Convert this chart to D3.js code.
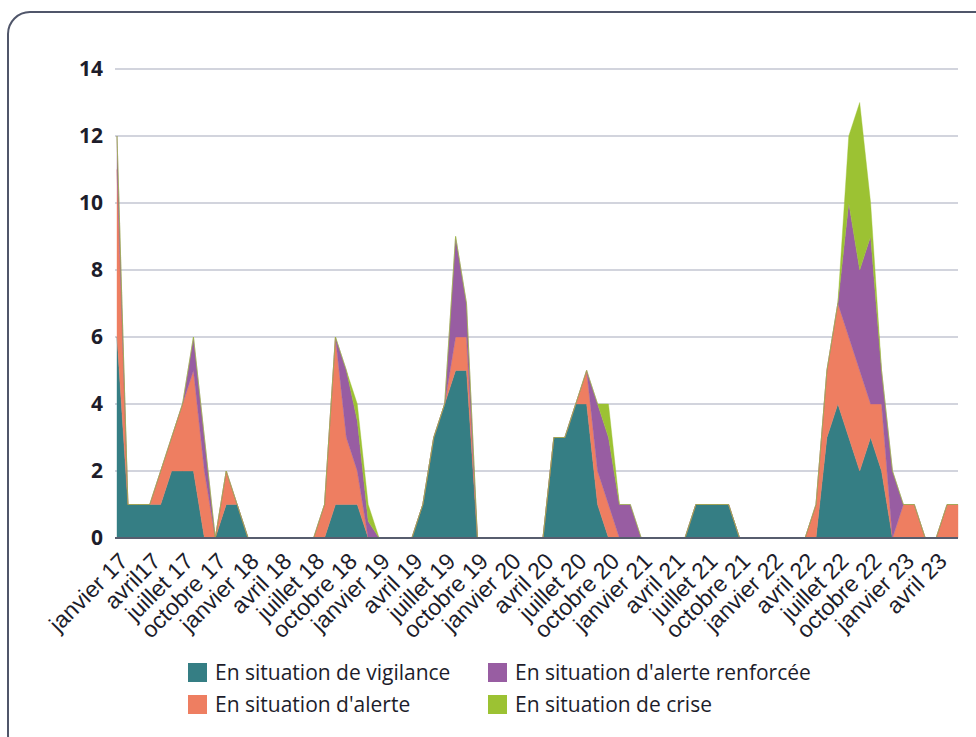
<!DOCTYPE html>
<html>
<head>
  <meta charset="UTF-8">
  <style>
    body { margin: 0; background: white; }
    svg { display: block; font-family: "Open Sans", "Noto Sans", sans-serif; }
    .ylab { font-size: 21px; font-weight: bold; fill: #1d1d2b; }
    .xlab { font-size: 23px; fill: #1d1d2b; }
    .legend { font-size: 21px; fill: #1d1d2b; }
  </style>
</head>
<body>

<svg></svg>
<script src="https://d3js.org/d3.v7.min.js"></script>

<script>

let width = 976, height = 737;

// monthly values, janvier 17 -> juin 23 (78 months)
let vigilance = [6,1,1,1,1,2,2,2,0,0,1,1,0,0,0,0,0,0,0,0,1,1,1,0,0,0,0,0,1,3,4,5,5,0,0,0,0,0,0,0,
                 3,3,4,4,1,0,0,0,0,0,0,0,0,1,1,1,1,0,0,0,0,0,0,0,0,3,4,3,2,3,2,0,0,0,0,0,0,0];
let alerte    = [5,0,0,0,1,1,2,3,2,0,1,0,0,0,0,0,0,0,0,1,5,2,1,0,0,0,0,0,0,0,0,1,1,0,0,0,0,0,0,0,
                 0,0,0,1,1,1,0,0,0,0,0,0,0,0,0,0,0,0,0,0,0,0,0,0,1,2,3,3,3,1,2,0,1,1,0,0,1,1];
let renforcee = [1,0,0,0,0,0,0,1,1,0,0,0,0,0,0,0,0,0,0,0,0,2,1.5,0.5,0,0,0,0,0,0,0,3,1,0,0,0,0,0,0,0,
                 0,0,0,0,2,2,1,1,0,0,0,0,0,0,0,0,0,0,0,0,0,0,0,0,0,0,0,4,3,5,1,2,0,0,0,0,0,0];
let crise     = [0,0,0,0,0,0,0,0,0,0,0,0,0,0,0,0,0,0,0,0,0,0,0.5,0.5,0,0,0,0,0,0,0,0,0,0,0,0,0,0,0,0,
                 0,0,0,0,0,1,0,0,0,0,0,0,0,0,0,0,0,0,0,0,0,0,0,0,0,0,0,2,5,1,0,0,0,0,0,0,0,0];

// one label every 3 months
let tickLabels = ["janvier 17","avril17","juillet 17","octobre 17",
                  "janvier 18","avril 18","juillet 18","octobre 18",
                  "janvier 19","avril 19","juillet 19","octobre 19",
                  "janvier 20","avril 20","juillet 20","octobre 20",
                  "janvier 21","avril 21","juillet 21","octobre 21",
                  "janvier 22","avril 22","juillet 22","octobre 22",
                  "janvier 23","avril 23"];

let yTicks = [0,2,4,6,8,10,12,14];

let seriesNames = ["En situation de vigilance","En situation d'alerte",
                   "En situation d'alerte renforcée","En situation de crise"];
let colors = ["#357e84","#ee7e61","#985da2","#9cc233"];

let svg = d3.select("svg")
    .attr("width", width)
    .attr("height", height);

// frame
svg.append("rect")
    .attr("x", 8).attr("y", 12)
    .attr("width", 990).attr("height", 745)
    .attr("rx", 22)
    .attr("fill", "white")
    .attr("stroke", "#50566a")
    .attr("stroke-width", 2);

let table = vigilance.map((v, i) => ({
  i: i, vig: v, ale: alerte[i], ren: renforcee[i], cri: crise[i]
}));

let x = d3.scaleLinear().domain([0, vigilance.length - 1]).range([117, 958]);
let y = d3.scaleLinear().domain([0, 14]).range([538, 69]);

// gridlines
svg.append("g")
    .selectAll("line")
    .data(yTicks.filter(d => d > 0))
    .enter().append("line")
    .attr("x1", 115).attr("x2", 958)
    .attr("y1", d => y(d)).attr("y2", d => y(d))
    .attr("stroke", "#c3c6d2")
    .attr("stroke-width", 1.5);

// y labels
svg.append("g")
    .selectAll("text")
    .data(yTicks)
    .enter().append("text")
    .attr("class", "ylab")
    .attr("x", 103)
    .attr("y", d => y(d))
    .attr("dy", "0.35em")
    .attr("text-anchor", "end")
    .text(d => d);

// stacked areas
let stack = d3.stack().keys(["vig","ale","ren","cri"]);
let layers = stack(table);

let area = d3.area()
    .x(d => x(d.data.i))
    .y0(d => y(d[0]))
    .y1(d => y(d[1]));

svg.append("g")
    .selectAll("path")
    .data(layers)
    .enter().append("path")
    .attr("d", area)
    .attr("fill", (d, i) => colors[i])
    .attr("stroke", (d, i) => colors[i])
    .attr("stroke-width", 0.4);

// baseline
svg.append("line")
    .attr("x1", 115).attr("x2", 958)
    .attr("y1", y(0)).attr("y2", y(0))
    .attr("stroke", "#575d6e")
    .attr("stroke-width", 2);

// x axis labels
let xAxis = d3.axisBottom(x)
    .tickValues(tickLabels.map((t, k) => k * 3))
    .tickFormat((d, k) => tickLabels[k])
    .tickSize(0);

let gx = svg.append("g")
    .attr("transform", `translate(0, ${y(0)})`)
    .call(xAxis);

gx.select(".domain").remove();
gx.selectAll("text")
    .attr("class", "xlab")
    .attr("font-size", null)
    .attr("font-family", null)
    .attr("fill", null)
    .attr("y", 0)
    .attr("dy", "0.35em")
    .attr("text-anchor", "end")
    .attr("transform", "translate(6,19) rotate(-45)");

// legend
let legendPos = [[188, 663], [188, 695], [488, 663], [488, 695]];
let legend = svg.append("g")
    .selectAll("g")
    .data(seriesNames)
    .enter().append("g")
    .attr("transform", (d, i) => `translate(${legendPos[i][0]}, ${legendPos[i][1]})`);

legend.append("rect")
    .attr("width", 19).attr("height", 19)
    .attr("fill", (d, i) => colors[i]);

legend.append("text")
    .attr("class", "legend")
    .attr("x", 27)
    .attr("y", 10)
    .attr("dy", "0.35em")
    .text(d => d);

</script>

</body>
</html>
